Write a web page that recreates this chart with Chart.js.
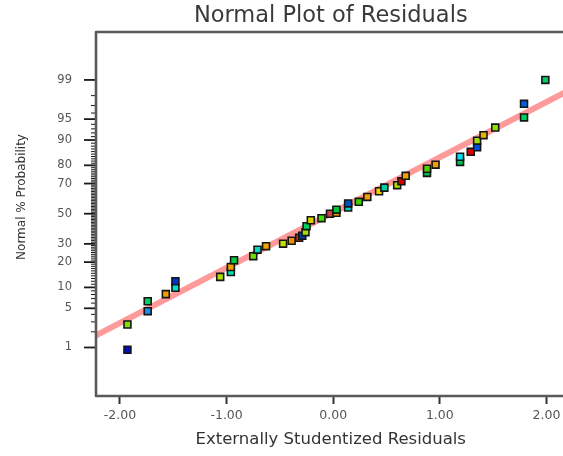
<!DOCTYPE html>
<html>
<head>
<meta charset="utf-8">
<script src="https://cdn.jsdelivr.net/npm/chart.js@4.4.1/dist/chart.umd.min.js"></script>
<style>
html,body{margin:0;padding:0;background:#fff;overflow:hidden;}
#wrap{width:572px;height:456px;}
</style>
</head>
<body>
<div id="wrap"><canvas id="c" width="572" height="456"></canvas></div>
<script>
// ---- data ----
const residuals = [-1.93,-1.93,-1.74,-1.74,-1.57,-1.48,-1.48,-1.06,-0.96,-0.96,-0.93,-0.75,-0.71,-0.63,-0.47,-0.39,-0.32,-0.29,-0.26,-0.25,-0.21,-0.11,-0.03,0.03,0.03,0.14,0.14,0.24,0.32,0.43,0.48,0.60,0.64,0.68,0.88,0.88,0.96,1.19,1.19,1.29,1.35,1.35,1.41,1.52,1.79,1.79,1.99];
const probability = [0.9,2.7,4.5,6.4,8.1,9.9,12.0,13.6,15.5,17.7,20.9,23.0,26.6,28.6,30.1,31.9,33.8,35.1,37.4,41.4,45.5,46.9,50.0,50.6,52.8,54.3,57.1,58.2,61.5,65.2,67.5,69.0,71.4,74.5,76.1,78.3,80.3,81.6,83.9,85.9,87.6,89.8,91.4,93.3,95.3,97.2,99.0];
const pointColors = ['#0010c0','#80e000','#1890f0','#00d060','#f0a000','#00e0d0','#0030d0','#b0e000','#00e0b0','#f0a000','#00d040','#70e000','#00e0c0','#f0a800','#c0e000','#f09000','#e02000','#0040a0','#a0e000','#00d060','#e0d000','#40e000','#d04040','#f0a000','#00c040','#00d0c0','#0050c0','#40d000','#f0a000','#f0d000','#00d0a0','#b0e000','#d00000','#f0a000','#00c050','#50d000','#f0a000','#00c050','#00e0f0','#e00000','#0050e0','#a0e000','#f0b000','#90e000','#00d060','#0060e0','#00d060'];
const fitX = [-2.3, 2.3];
const fitProb = [1.44, 98.72];
const xTicks = [-2, -1, 0, 1, 2];
const yMajorTicks = [1,5,10,20,30,50,70,80,90,95,99];
const yMinorTicks = [];
for (let p = 1; p <= 99; p++) yMinorTicks.push(p);
const yTitle = 'Normal % Probability';

// inverse standard normal CDF (Acklam)
function invNorm(p){
  const a=[-3.969683028665376e+01,2.209460984245205e+02,-2.759285104469687e+02,1.383577518672690e+02,-3.066479806614716e+01,2.506628277459239e+00];
  const b=[-5.447609879822406e+01,1.615858368580409e+02,-1.556989798598866e+02,6.680131188771972e+01,-1.328068155288572e+01];
  const c=[-7.784894002430293e-03,-3.223964580411365e-01,-2.400758277161838e+00,-2.549732539343734e+00,4.374664141464968e+00,2.938163982698783e+00];
  const d=[7.784695709041462e-03,3.224671290700398e-01,2.445134137142996e+00,3.754408661907416e+00];
  const pl=0.02425, ph=1-pl; let q,r;
  if(p<pl){q=Math.sqrt(-2*Math.log(p));return (((((c[0]*q+c[1])*q+c[2])*q+c[3])*q+c[4])*q+c[5])/((((d[0]*q+d[1])*q+d[2])*q+d[3])*q+1);}
  if(p<=ph){q=p-0.5;r=q*q;return (((((a[0]*r+a[1])*r+a[2])*r+a[3])*r+a[4])*r+a[5])*q/(((((b[0]*r+b[1])*r+b[2])*r+b[3])*r+b[4])*r+1);}
  q=Math.sqrt(-2*Math.log(1-p));return -(((((c[0]*q+c[1])*q+c[2])*q+c[3])*q+c[4])*q+c[5])/((((d[0]*q+d[1])*q+d[2])*q+d[3])*q+1);
}
const z = pct => invNorm(pct/100);

const FONT = "'DejaVu Sans', sans-serif";

const framePlugin = {
  id: 'frame',
  afterDraw(chart){
    const {ctx, chartArea:a} = chart;
    const ys = chart.scales.y;
    ctx.save();
    // y ticks (major long, minor short)
    ctx.strokeStyle = '#1a1a1a';
    yMinorTicks.forEach(p => {
      const py = ys.getPixelForValue(z(p));
      const major = yMajorTicks.includes(p);
      ctx.lineWidth = major ? 1.8 : 1;
      ctx.beginPath();
      ctx.moveTo(a.left - (major ? 12 : 5), py);
      ctx.lineTo(a.left, py);
      ctx.stroke();
    });
    // frame
    ctx.strokeStyle = '#5a5a5a';
    ctx.lineWidth = 2.6;
    ctx.lineJoin = 'round';
    ctx.beginPath();
    ctx.moveTo(a.right + 6, a.top);
    ctx.lineTo(a.left, a.top);
    ctx.lineTo(a.left, a.bottom);
    ctx.lineTo(a.right + 6, a.bottom);
    ctx.stroke();
    // y axis title
    ctx.translate(22, 197);
    ctx.rotate(-Math.PI/2);
    ctx.fillStyle = '#333';
    ctx.font = "12px " + FONT;
    ctx.textAlign = 'center';
    ctx.textBaseline = 'middle';
    ctx.fillText(yTitle, 0, 0);
    ctx.restore();
  }
};

new Chart(document.getElementById('c'), {
  type: 'scatter',
  data: {
    datasets: [
      {
        type: 'line',
        label: 'fit',
        data: fitX.map((x,i) => ({x, y: z(fitProb[i])})),
        borderColor: 'rgba(255,115,115,0.72)',
        borderWidth: 6,
        pointRadius: 0,
        fill: false,
        order: 2
      },
      {
        label: 'residuals',
        data: residuals.map((x,i) => ({x, y: z(probability[i])})),
        pointStyle: 'rect',
        pointRadius: 4.9,
        pointHoverRadius: 4.9,
        backgroundColor: pointColors,
        borderColor: '#151515',
        borderWidth: 1.6,
        order: 1
      }
    ]
  },
  options: {
    responsive: false,
    animation: false,
    events: [],
    layout: {padding: {left: 0, right: 1, top: 0, bottom: 0}},
    plugins: {
      legend: {display: false},
      tooltip: {enabled: false},
      title: {
        display: true,
        text: 'Normal Plot of Residuals',
        fullSize: false,
        color: '#3a3a3a',
        font: {family: FONT, size: 22.5, weight: 'normal'},
        padding: {top: 3, bottom: 2}
      }
    },
    scales: {
      x: {
        type: 'linear',
        min: -2.225,
        max: 2.179,
        afterFit(s){ s.height = 60; },
        afterBuildTicks(s){ s.ticks = xTicks.map(v => ({value: v})); },
        border: {display: false},
        grid: {drawOnChartArea: false, tickLength: 8, tickWidth: 2, tickColor: '#333'},
        ticks: {
          color: '#555',
          font: {family: FONT, size: 12.5},
          padding: 4,
          maxRotation: 0,
          autoSkip: false,
          callback: v => v.toFixed(2)
        },
        title: {
          display: true,
          text: 'Externally Studentized Residuals',
          color: '#333',
          font: {family: FONT, size: 16.5},
          padding: {top: 0, bottom: 6}
        }
      },
      y: {
        type: 'linear',
        min: -3.17,
        max: 3.16,
        afterFit(s){ s.width = 96; },
        afterBuildTicks(s){ s.ticks = yMinorTicks.map(p => ({value: z(p)})); },
        border: {display: false},
        grid: {display: false},
        ticks: {
          color: '#555',
          font: {family: FONT, size: 11.5},
          padding: 16,
          autoSkip: false,
          callback: (v, i) => yMajorTicks.includes(yMinorTicks[i]) ? String(yMinorTicks[i]) : ''
        },
        title: {display: false}
      }
    }
  },
  plugins: [framePlugin]
});
</script>
</body>
</html>
